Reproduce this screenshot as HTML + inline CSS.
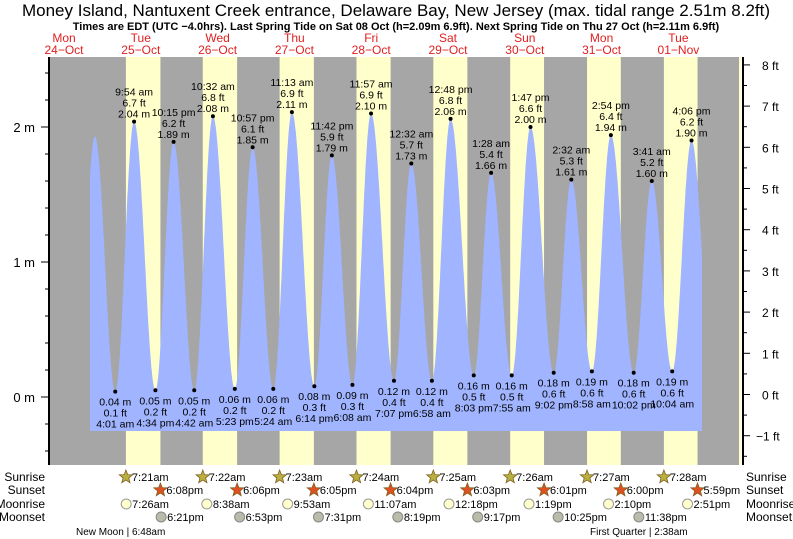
<!DOCTYPE html>
<html><head><meta charset="utf-8"><style>
body{margin:0;background:#fff;}
svg{display:block;font-family:"Liberation Sans",sans-serif;}
</style></head><body>
<svg id="chart" width="793" height="539" viewBox="0 0 793 539">
<text x="396" y="16" text-anchor="middle" font-size="17" fill="#000">Money Island, Nantuxent Creek entrance, Delaware Bay, New Jersey (max. tidal range 2.51m 8.2ft)</text>
<text x="396" y="30" text-anchor="middle" font-size="11" font-weight="bold" fill="#000">Times are EDT (UTC −4.0hrs). Last Spring Tide on Sat 08 Oct (h=2.09m 6.9ft). Next Spring Tide on Thu 27 Oct (h=2.11m 6.9ft)</text>
<g id="bg"></g><g id="tide"></g><g id="axes"></g><g id="labels"></g><g id="sun"></g>
</svg>
<script>
// ---- data ----
const dayNames = ["Mon","Tue","Wed","Thu","Fri","Sat","Sun","Mon","Tue"];
const dayDates = ["24\u2212Oct","25\u2212Oct","26\u2212Oct","27\u2212Oct","28\u2212Oct","29\u2212Oct","30\u2212Oct","31\u2212Oct","01\u2212Nov"];
// day index = days since 24-Oct
const highDays = [1,1,2,2,3,3,4,5,5,6,6,7,7,8,8];
const highTimes = ["9:54 am","10:15 pm","10:32 am","10:57 pm","11:13 am","11:42 pm","11:57 am","12:32 am","12:48 pm","1:28 am","1:47 pm","2:32 am","2:54 pm","3:41 am","4:06 pm"];
const highM = [2.04,1.89,2.08,1.85,2.11,1.79,2.10,1.73,2.06,1.66,2.00,1.61,1.94,1.60,1.90];
const highFt = ["6.7","6.2","6.8","6.1","6.9","5.9","6.9","5.7","6.8","5.4","6.6","5.3","6.4","5.2","6.2"];
const lowDays = [1,1,2,2,3,3,4,4,5,5,6,6,7,7,8];
const lowTimes = ["4:01 am","4:34 pm","4:42 am","5:23 pm","5:24 am","6:14 pm","6:08 am","7:07 pm","6:58 am","8:03 pm","7:55 am","9:02 pm","8:58 am","10:02 pm","10:04 am"];
const lowM = [0.04,0.05,0.05,0.06,0.06,0.08,0.09,0.12,0.12,0.16,0.16,0.18,0.19,0.18,0.19];
const lowFt = ["0.1","0.2","0.2","0.2","0.2","0.3","0.3","0.4","0.4","0.5","0.5","0.6","0.6","0.6","0.6"];
// unlabelled extrema outside labelled range (day, time, m)
const edgeDays = [0,0,8];
const edgeTimes = ["3:40 pm","9:40 pm","10:40 pm"];
const edgeM = [0.04,1.93,0.2];
const sunriseTimes = ["7:21am","7:22am","7:23am","7:24am","7:25am","7:26am","7:27am","7:28am"];
const sunsetTimes = ["6:08pm","6:06pm","6:05pm","6:04pm","6:03pm","6:01pm","6:00pm","5:59pm"];
const moonriseTimes = ["7:26am","8:38am","9:53am","11:07am","12:18pm","1:19pm","2:10pm","2:51pm"];
const moonsetTimes = ["6:21pm","6:53pm","7:31pm","8:19pm","9:17pm","10:25pm","11:38pm"];
const mTicks = [0,1,2];
const ftTicks = [-1,0,1,2,3,4,5,6,7,8];

// ---- scales ----
const PX_H = 3.2, X0 = 25.6;
const L = 49, R = 741, T = 57, B = 465;
function x(t){ return X0 + t*PX_H; }
function ym(m){ return 397 - m*135; }
function yft(f){ return 394.5 - f*41.2; }
function parseT(s){ const m = s.match(/(\d+):(\d+)\s*(am|pm)/); let h=+m[1]%12; if(m[3]==='pm') h+=12; return h + (+m[2])/60; }
const NS="http://www.w3.org/2000/svg";
function mk(parent, tag, attrs){ const e=document.createElementNS(NS,tag); for(const k in attrs) e.setAttribute(k,attrs[k]); document.getElementById(parent).appendChild(e); return e; }
function txt(parent, s, attrs){ const e=mk(parent,'text',attrs); e.textContent=s; return e; }

// background
let r=mk('bg','rect',{x:L,y:T,width:R-L,height:B-T,fill:'#a6a6a6'});


for(let i=0;i<sunriseTimes.length;i++){
  const a=x((i+1)*24+parseT(sunriseTimes[i])), b=Math.min(x((i+1)*24+parseT(sunsetTimes[i])),R);
  const d=mk('bg','rect',{x:a,y:T,width:b-a,height:B-T,fill:'#ffffcc'});
  
  
}
const tail=mk('bg','rect',{x:739,y:T,width:2,height:B-T,fill:'#ffffcc'});



// tide curve
const ext=[];
highDays.forEach((d,i)=>ext.push([d*24+parseT(highTimes[i]),highM[i]]));
lowDays.forEach((d,i)=>ext.push([d*24+parseT(lowTimes[i]),lowM[i]]));
edgeDays.forEach((d,i)=>ext.push([d*24+parseT(edgeTimes[i]),edgeM[i]]));
ext.sort((a,b)=>a[0]-b[0]);
function h(t){
  for(let i=0;i<ext.length-1;i++){ const a=ext[i],b=ext[i+1];
    if(t>=a[0]&&t<=b[0]){ const f=(t-a[0])/(b[0]-a[0]); return a[1]+(b[1]-a[1])*(1-Math.cos(Math.PI*f))/2; } }
  return ext[ext.length-1][1];
}
const t0=(90-X0)/PX_H, t1=(702-X0)/PX_H, yb=431;
let p=`M${x(t0)},${yb}`;
for(let t=t0;t<=t1;t+=0.1) p+=` L${x(t).toFixed(1)},${ym(h(t)).toFixed(1)}`;
p+=` L${x(t1)},${ym(h(t1))} L${x(t1)},${yb} Z`;
const area=mk('tide','path',{d:p,fill:'#a0b4ff'});



// axes
const al=mk('axes','line',{x1:L,y1:T,x2:L,y2:B,stroke:'#000','stroke-width':2});


const ar=mk('axes','line',{x1:743,y1:T,x2:743,y2:B,stroke:'#000','stroke-width':2});


for(let v=-0.6;v<=2.61;v+=0.2){ const yy=ym(v); if(yy<T||yy>B) continue;
  const tk=mk('axes','line',{x1:L-4,y1:yy,x2:L,y2:yy,stroke:'#000'});
  
   }
mTicks.forEach(v=>{ const tk=mk('axes','line',{x1:L-8,y1:ym(v),x2:L,y2:ym(v),stroke:'#000'});
  
  
  const lb=txt('axes',v+' m',{x:35,y:ym(v)+5,'text-anchor':'end','font-size':13});
  
   });
for(let v=-1.5;v<=8.01;v+=0.5){ const yy=yft(v); const maj=Number.isInteger(v);
  const tk=mk('axes','line',{x1:743,y1:yy,x2:743+(maj?7:4),y2:yy,stroke:'#000'});
  
   }
ftTicks.forEach(v=>{ const lb=txt('axes',(v<0?'\u2212'+(-v):v)+' ft',{x:v<0?756:762,y:yft(v)+5,'font-size':12});
  
   });
dayNames.forEach((d,i)=>{ const cx=x(i*24+12);
  const a=txt('axes',d,{x:cx,y:42,'text-anchor':'middle','font-size':12,fill:'#e02020'});
  
  
  const b=txt('axes',dayDates[i],{x:cx,y:54,'text-anchor':'middle','font-size':12,fill:'#e02020'});
  
   });

// tide labels
function dot(cx,cy){ const c=mk('labels','circle',{cx:cx,cy:cy,r:2,fill:'#000'});
  
   }
highDays.forEach((d,i)=>{ const cx=x(d*24+parseT(highTimes[i])), cy=ym(highM[i]); dot(cx,cy);
  [highTimes[i],highFt[i]+' ft',highM[i].toFixed(2)+' m'].forEach((s,k)=>{
    const e=txt('labels',s,{x:cx,y:cy-4-(2-k)*11,'text-anchor':'middle','font-size':10.5});
    
     }); });
lowDays.forEach((d,i)=>{ const cx=x(d*24+parseT(lowTimes[i])), cy=ym(lowM[i]); dot(cx,cy);
  [lowM[i].toFixed(2)+' m',lowFt[i]+' ft',lowTimes[i]].forEach((s,k)=>{
    const e=txt('labels',s,{x:cx,y:cy+14+k*11,'text-anchor':'middle','font-size':10.5});
    
     }); });

// sun & moon rows
const rows=[['Sunrise',477],['Sunset',490],['Moonrise',504],['Moonset',517]];
rows.forEach(([n,yy])=>{
  const a=txt('sun',n,{x:45,y:yy+4,'text-anchor':'end','font-size':12});
  
  
  const b=txt('sun',n,{x:746,y:yy+4,'font-size':12});
  
   });
function star(cx,cy,fill){ let pts=[]; for(let k=0;k<10;k++){ const rr=k%2?3:7, a=-Math.PI/2+k*Math.PI/5; pts.push((cx+rr*Math.cos(a)).toFixed(1)+','+(cy+rr*Math.sin(a)).toFixed(1)); }
  return mk('sun','polygon',{points:pts.join(' '),fill:fill,stroke:'#806020','stroke-width':0.8}); }
function rowItem(list,dayOff,yy,kind){
  list.forEach((s,i)=>{ const cx=x((i+dayOff)*24+parseT(s.replace(/(am|pm)/,' $1')));
    let ic;
    if(kind==='rise'){ ic=star(cx,yy,'#b8b040');  }
    else if(kind==='set'){ ic=star(cx,yy,'#e05020');  }
    else if(kind==='mrise'){ ic=mk('sun','circle',{cx:cx,cy:yy,r:5,fill:'#ffffcc',stroke:'#999'});  }
    else { ic=mk('sun','circle',{cx:cx,cy:yy,r:5,fill:'#bbbbaa',stroke:'#888'});  }
    
    const t=txt('sun',s,{x:cx+6,y:yy+4,'font-size':11});
    
     }); }
rowItem(sunriseTimes,1,477,'rise');
rowItem(sunsetTimes,1,490,'set');
rowItem(moonriseTimes,1,504,'mrise');
rowItem(moonsetTimes,1,517,'mset');
const nm=txt('sun','New Moon | 6:48am',{x:76,y:535,'font-size':10});


const fq=txt('sun','First Quarter | 2:38am',{x:590,y:535,'font-size':10});


</script>
</body></html>
